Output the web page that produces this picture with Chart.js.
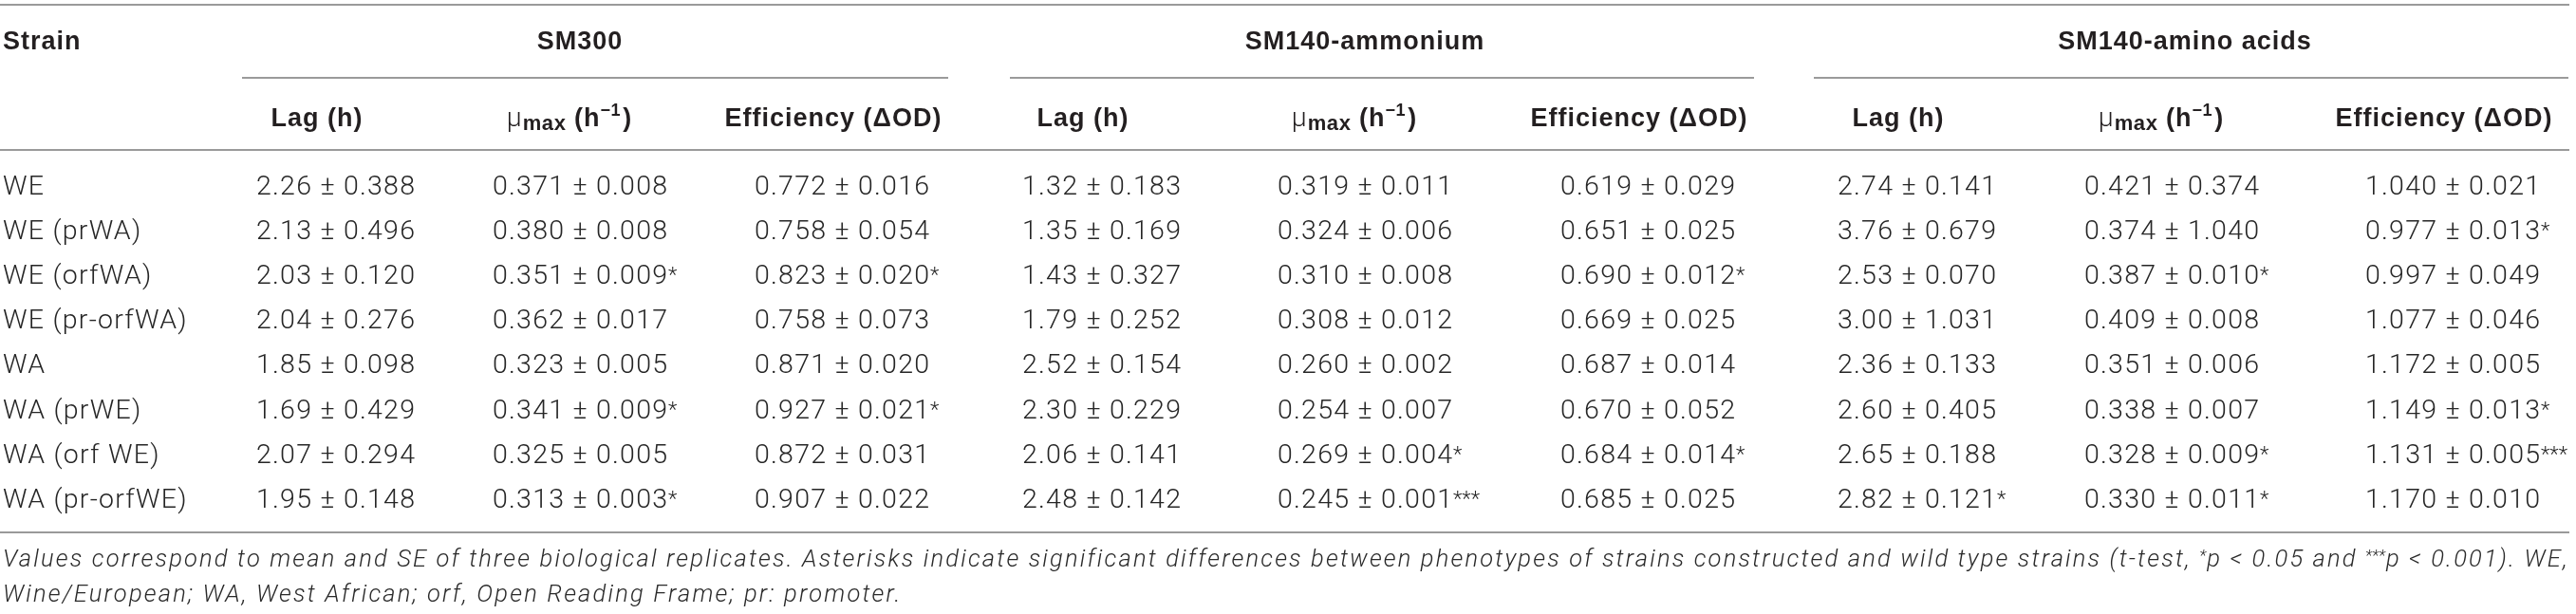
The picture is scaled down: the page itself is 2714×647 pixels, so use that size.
<!DOCTYPE html>
<html>
<head>
<meta charset="utf-8">
<script src="https://cdn.jsdelivr.net/npm/chart.js@4.4.1/dist/chart.umd.min.js"></script>
<style>
html,body{margin:0;padding:0;background:#ffffff;overflow:hidden}
canvas{display:block}
</style>
</head>
<body>
<canvas id="c" width="2714" height="647" style="width:2714px;height:647px"></canvas>
<script>
// ================= DATA =================
const strains = ["WE", "WE (prWA)", "WE (orfWA)", "WE (pr-orfWA)", "WA", "WA (prWE)", "WA (orf WE)", "WA (pr-orfWE)"];
const media = ["SM300", "SM140-ammonium", "SM140-amino acids"];
const measureHeaders = ["Lag (h)", "μmax (h−1)", "Efficiency (ΔOD)"];

// SM300
const sm300LagMean = [2.26, 2.13, 2.03, 2.04, 1.85, 1.69, 2.07, 1.95];
const sm300LagSE   = [0.388, 0.496, 0.120, 0.276, 0.098, 0.429, 0.294, 0.148];
const sm300LagSig  = ["", "", "", "", "", "", "", ""];
const sm300MuMean  = [0.371, 0.380, 0.351, 0.362, 0.323, 0.341, 0.325, 0.313];
const sm300MuSE    = [0.008, 0.008, 0.009, 0.017, 0.005, 0.009, 0.005, 0.003];
const sm300MuSig   = ["", "", "*", "", "", "*", "", "*"];
const sm300EffMean = [0.772, 0.758, 0.823, 0.758, 0.871, 0.927, 0.872, 0.907];
const sm300EffSE   = [0.016, 0.054, 0.020, 0.073, 0.020, 0.021, 0.031, 0.022];
const sm300EffSig  = ["", "", "*", "", "", "*", "", ""];

// SM140-ammonium
const amLagMean = [1.32, 1.35, 1.43, 1.79, 2.52, 2.30, 2.06, 2.48];
const amLagSE   = [0.183, 0.169, 0.327, 0.252, 0.154, 0.229, 0.141, 0.142];
const amLagSig  = ["", "", "", "", "", "", "", ""];
const amMuMean  = [0.319, 0.324, 0.310, 0.308, 0.260, 0.254, 0.269, 0.245];
const amMuSE    = [0.011, 0.006, 0.008, 0.012, 0.002, 0.007, 0.004, 0.001];
const amMuSig   = ["", "", "", "", "", "", "*", "***"];
const amEffMean = [0.619, 0.651, 0.690, 0.669, 0.687, 0.670, 0.684, 0.685];
const amEffSE   = [0.029, 0.025, 0.012, 0.025, 0.014, 0.052, 0.014, 0.025];
const amEffSig  = ["", "", "*", "", "", "", "*", ""];

// SM140-amino acids
const aaLagMean = [2.74, 3.76, 2.53, 3.00, 2.36, 2.60, 2.65, 2.82];
const aaLagSE   = [0.141, 0.679, 0.070, 1.031, 0.133, 0.405, 0.188, 0.121];
const aaLagSig  = ["", "", "", "", "", "", "", "*"];
const aaMuMean  = [0.421, 0.374, 0.387, 0.409, 0.351, 0.338, 0.328, 0.330];
const aaMuSE    = [0.374, 1.040, 0.010, 0.008, 0.006, 0.007, 0.009, 0.011];
const aaMuSig   = ["", "", "*", "", "", "", "*", "*"];
const aaEffMean = [1.040, 0.977, 0.997, 1.077, 1.172, 1.149, 1.131, 1.170];
const aaEffSE   = [0.021, 0.013, 0.049, 0.046, 0.005, 0.013, 0.005, 0.010];
const aaEffSig  = ["", "*", "", "", "", "*", "***", ""];

const footnote1 = "Values correspond to mean and SE of three biological replicates. Asterisks indicate significant differences between phenotypes of strains constructed and wild type strains (t-test, *p < 0.05 and ***p < 0.001). WE,";
const footnote2 = "Wine/European; WA, West African; orf, Open Reading Frame; pr: promoter.";

// ================= LAYOUT (not data) =================
const L = {
  W: 2714, H: 647,
  colStart: [270, 519, 795, 1077, 1346, 1644, 1936, 2196, 2492],
  headCenterOff: [64, 81, 83],
  strainX: 3,
  rowTop: 171.4, rowBottom: 548.4,
  headBase: 52, subBase: 133,
  groupCenter: [611, 1438, 2302],
  groupLine: [[255, 999], [1064, 1848], [1911, 2706]],
  yTop: 5, yGroup: 82, ySub: 158, yBottom: 561,
  lineL: 0, lineR: 2707,
  foot1Base: 597, foot2Base: 634, footL: 3, footR: 2707
};
const VAL_FONT = '300 28.5px Roboto, "Liberation Sans", sans-serif';
const SIG_FONT = '300 22px Roboto, "Liberation Sans", sans-serif';
const HEAD_FONT = 'bold 27px "Liberation Sans", Arial, sans-serif';
const FOOT_FONT = 'italic 300 25.5px Roboto, "Liberation Sans", sans-serif';
const FOOT_SMALL = 'italic 300 17px Roboto, "Liberation Sans", sans-serif';
const TXT = '#231f20';
const LINE = '#9a9a9a';

// build column table from the named arrays
const columns = [
  {mean: sm300LagMean, se: sm300LagSE, sig: sm300LagSig, d: 2},
  {mean: sm300MuMean,  se: sm300MuSE,  sig: sm300MuSig,  d: 3},
  {mean: sm300EffMean, se: sm300EffSE, sig: sm300EffSig, d: 3},
  {mean: amLagMean, se: amLagSE, sig: amLagSig, d: 2},
  {mean: amMuMean,  se: amMuSE,  sig: amMuSig,  d: 3},
  {mean: amEffMean, se: amEffSE, sig: amEffSig, d: 3},
  {mean: aaLagMean, se: aaLagSE, sig: aaLagSig, d: 2},
  {mean: aaMuMean,  se: aaMuSE,  sig: aaMuSig,  d: 3},
  {mean: aaEffMean, se: aaEffSE, sig: aaEffSig, d: 3}
];

const datasets = columns.map((col, c) => ({
  label: media[Math.floor(c / 3)] + " " + measureHeaders[c % 3],
  data: strains.map(s => ({x: L.colStart[c], y: s})),
  cellText: col.mean.map((m, i) => m.toFixed(col.d) + " ± " + col.se[i].toFixed(3)),
  cellSig: col.sig,
  pointRadius: 0, pointHoverRadius: 0, pointHitRadius: 0
}));
datasets.push({
  label: "Strain",
  data: strains.map(s => ({x: L.strainX, y: s})),
  cellText: strains.slice(),
  cellSig: strains.map(() => ""),
  pointRadius: 0, pointHoverRadius: 0, pointHitRadius: 0
});

// ================= DRAW HELPERS =================
let valLS = 0, headLS = 0, footLS = 0;
function setF(ctx, f, ls) { ctx.font = f; ctx.letterSpacing = (ls || 0) + 'px'; }
function calibrate(ctx) {
  setF(ctx, VAL_FONT, 0);
  let w = ctx.measureText("0.371 ± 0.008").width;
  valLS = (184 - w) / 12;
  setF(ctx, HEAD_FONT, 0);
  w = ctx.measureText("Efficiency (ΔOD)").width;
  headLS = Math.max(0, (228 - w) / 15);
  setF(ctx, FOOT_FONT, 0);
  const s = "Wine/European; WA, West African; orf, Open Reading ";
  w = ctx.measureText(s).width;
  footLS = (683 - w) / (s.length - 1);
}
function hline(ctx, x1, x2, y) {
  ctx.save(); ctx.strokeStyle = LINE; ctx.lineWidth = 2;
  ctx.beginPath(); ctx.moveTo(x1, y); ctx.lineTo(x2, y); ctx.stroke(); ctx.restore();
}
function footToken(ctx, tok, x, y, draw) {
  const m = tok.match(/^(\*+)(.*)$/);
  let w = 0;
  if (m) {
    setF(ctx, FOOT_SMALL, 0);
    const ws = ctx.measureText(m[1]).width;
    if (draw) ctx.fillText(m[1], x, y - 6);
    w += ws + 1;
    tok = m[2];
  }
  setF(ctx, FOOT_FONT, footLS);
  if (draw) ctx.fillText(tok, x + w, y);
  w += ctx.measureText(tok).width;
  return w;
}
function drawMu(ctx, cx, base) {
  const parts = [
    {t: "μ", f: VAL_FONT, ls: 0, dy: 0, gap: 0},
    {t: "max", f: 'bold 22px "Liberation Sans", Arial, sans-serif', ls: 0.6, dy: 4, gap: 1},
    {t: " (h", f: HEAD_FONT, ls: headLS, dy: 0, gap: 0},
    {t: "−1", f: 'bold 18px "Liberation Sans", Arial, sans-serif', ls: 0.6, dy: -11, gap: 0},
    {t: ")", f: HEAD_FONT, ls: headLS, dy: 0, gap: 2}
  ];
  let total = 0;
  parts.forEach(p => { setF(ctx, p.f, p.ls); p.w = ctx.measureText(p.t).width; total += p.gap + p.w; });
  let x = cx - total / 2;
  parts.forEach(p => { x += p.gap; setF(ctx, p.f, p.ls); ctx.fillText(p.t, x, base + p.dy); x += p.w; });
}

const tablePlugin = {
  id: 'tableText',
  afterDraw(chart) {
    const ctx = chart.ctx;
    const xs = chart.scales.x;
    calibrate(ctx);
    ctx.save();
    ctx.textAlign = 'left';
    ctx.textBaseline = 'alphabetic';
    ctx.fillStyle = TXT;

    // rules
    const lx1 = xs.getPixelForValue(L.lineL), lx2 = xs.getPixelForValue(L.lineR);
    hline(ctx, lx1, lx2, L.yTop);
    hline(ctx, lx1, lx2, L.ySub);
    hline(ctx, lx1, lx2, L.yBottom);
    L.groupLine.forEach(g => hline(ctx, xs.getPixelForValue(g[0]), xs.getPixelForValue(g[1]), L.yGroup));

    // header row
    setF(ctx, HEAD_FONT, headLS);
    ctx.fillText("Strain", xs.getPixelForValue(L.strainX), L.headBase);
    ctx.textAlign = 'center';
    media.forEach((m, g) => ctx.fillText(m, xs.getPixelForValue(L.groupCenter[g]), L.headBase));
    // sub-headers
    for (let c = 0; c < 9; c++) {
      const k = c % 3;
      const cx = xs.getPixelForValue(L.colStart[c] + L.headCenterOff[k]);
      if (k === 1) {
        ctx.textAlign = 'left';
        drawMu(ctx, cx, L.subBase);
      } else {
        ctx.textAlign = 'center';
        setF(ctx, HEAD_FONT, headLS);
        ctx.fillText(measureHeaders[k], cx, L.subBase);
      }
    }

    // cells (positions from the chart's own scales)
    ctx.textAlign = 'left';
    ctx.fillStyle = '#262626';
    setF(ctx, VAL_FONT, valLS);
    const capHalf = ctx.measureText("0").actualBoundingBoxAscent / 2;
    chart.data.datasets.forEach((ds, di) => {
      const meta = chart.getDatasetMeta(di);
      meta.data.forEach((pt, i) => {
        const x = pt.x, y = pt.y + capHalf;
        setF(ctx, VAL_FONT, valLS);
        ctx.fillText(ds.cellText[i], x, y);
        if (ds.cellSig[i]) {
          const w = ctx.measureText(ds.cellText[i]).width;
          setF(ctx, SIG_FONT, 0);
          ctx.fillText(ds.cellSig[i], x + w - valLS + 1, y - 2);
        }
      });
    });

    // footnote
    ctx.fillStyle = '#2a2a2a';
    const words = footnote1.split(' ');
    const widths = words.map(w => footToken(ctx, w, 0, 0, false));
    const sum = widths.reduce((a, b) => a + b, 0);
    const fl = xs.getPixelForValue(L.footL), fr = xs.getPixelForValue(L.footR);
    const gap = (fr - fl - sum) / (words.length - 1);
    let x = fl;
    words.forEach((w, k) => { footToken(ctx, w, x, L.foot1Base, true); x += widths[k] + gap; });
    const words2 = footnote2.split(' ');
    setF(ctx, FOOT_FONT, footLS);
    const sp = ctx.measureText(' ').width;
    x = fl;
    words2.forEach(w => { x += footToken(ctx, w, x, L.foot2Base, true) + sp; });
    ctx.restore();
  }
};

new Chart(document.getElementById('c').getContext('2d'), {
  type: 'scatter',
  data: {datasets: datasets},
  options: {
    responsive: false,
    animation: false,
    devicePixelRatio: 1,
    events: [],
    layout: {padding: {top: L.rowTop, bottom: L.H - L.rowBottom, left: 0, right: 0}},
    plugins: {legend: {display: false}, tooltip: {enabled: false}},
    scales: {
      x: {type: 'linear', min: 0, max: L.W, display: false},
      y: {type: 'category', labels: strains, offset: true, display: false}
    }
  },
  plugins: [tablePlugin]
});
</script>
</body>
</html>
